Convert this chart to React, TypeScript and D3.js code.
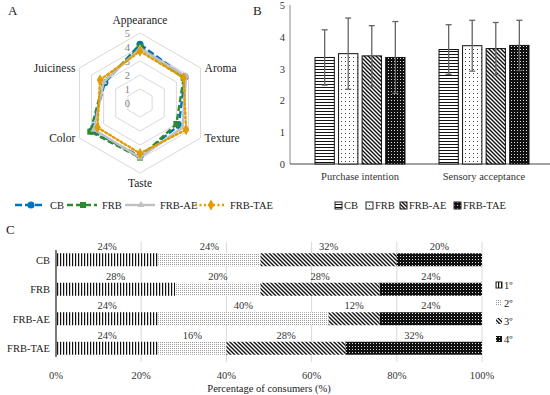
import { useEffect, useRef } from "react";
import * as d3 from "d3";

// Panel A - radar (sensory attributes)
const attributes = ["Appearance", "Aroma", "Texture", "Taste", "Color", "Juiciness"];
const samples = ["CB", "FRB", "FRB-AE", "FRB-TAE"];
const radarCB = [4.2, 3.7, 3.2, 3.8, 4.0, 2.9];
const radarFRB = [4.0, 3.6, 3.0, 3.9, 4.1, 3.0];
const radarFRBAE = [3.9, 3.8, 3.5, 3.9, 3.8, 3.0];
const radarFRBTAE = [3.7, 3.6, 3.8, 3.6, 3.5, 3.3];
const radarTicks = [0, 1, 2, 3, 4, 5];

// Panel B - bars with SD
const sensoryCategories = ["Purchase intention", "Sensory acceptance"];
const meanCB = [3.35, 3.6];
const meanFRB = [3.47, 3.72];
const meanFRBAE = [3.4, 3.63];
const meanFRBTAE = [3.35, 3.73];
const sdCB = [0.87, 0.78];
const sdFRB = [1.12, 0.8];
const sdFRBAE = [0.95, 0.82];
const sdFRBTAE = [1.13, 0.79];
const barTicks = [0, 1, 2, 3, 4, 5];

// Panel C - ranking
const rankCategories = ["CB", "FRB", "FRB-AE", "FRB-TAE"];
const rankLabels = ["1º", "2º", "3º", "4º"];
const rank1 = [24, 28, 24, 24];
const rank2 = [24, 20, 40, 16];
const rank3 = [32, 28, 12, 28];
const rank4 = [20, 24, 24, 32];
const pctTicks = [0, 20, 40, 60, 80, 100];

function App() {
  const ref = useRef<SVGSVGElement>(null);

  useEffect(() => {
    if (!ref.current) return;
    const svg = d3.select(ref.current);
    svg.selectAll("*").remove();
    svg.attr("font-family", "'Liberation Serif', 'Times New Roman', serif");

    const defs = svg.append("defs");
    const pattern = (id: string, w: number, h: number, bg: string) => {
      const p = defs
        .append("pattern")
        .attr("id", id)
        .attr("patternUnits", "userSpaceOnUse")
        .attr("width", w)
        .attr("height", h);
      p.append("rect").attr("width", w).attr("height", h).attr("fill", bg);
      return p;
    };
    pattern("hstripe", 3, 3, "#fff").append("rect").attr("width", 3).attr("height", 1).attr("fill", "#111");
    pattern("vstripe", 3, 3, "#fff").append("rect").attr("width", 1.2).attr("height", 3).attr("fill", "#111");
    pattern("sparsedots", 4, 4, "#fff").append("rect").attr("x", 1).attr("y", 1).attr("width", 1).attr("height", 1).attr("fill", "#444");
    pattern("lightdots", 2, 2, "#fff").append("rect").attr("width", 1).attr("height", 1).attr("fill", "#9a9a9a");
    pattern("diag", 4, 4, "#fff")
      .append("path")
      .attr("d", "M-1,-1L5,5M3,-1L5,1M-1,3L1,5")
      .attr("stroke", "#111")
      .attr("stroke-width", 1.4);
    const chk = pattern("checker", 3, 3, "#111");
    chk.append("rect").attr("x", 1).attr("y", 1).attr("width", 1).attr("height", 1).attr("fill", "#ddd");

    const panelLabel = (t: string, x: number, y: number) =>
      svg.append("text").attr("x", x).attr("y", y).attr("font-size", 13).attr("fill", "#222").text(t);

    // ---------------- A: radar ----------------
    const cx = 140, cy = 103, R = 70;
    const r = d3.scaleLinear().domain([0, 5]).range([0, R]);
    const angle = (i: number) => (i * 2 * Math.PI) / attributes.length;
    const pt = (i: number, v: number): [number, number] => [
      cx + r(v) * Math.sin(angle(i)),
      cy - r(v) * Math.cos(angle(i)),
    ];
    panelLabel("A", 8, 15);
    const gA = svg.append("g");
    radarTicks.slice(1).forEach((t) => {
      gA.append("path")
        .attr("d", d3.line()(attributes.map((_, i) => pt(i, t))) + "Z")
        .attr("fill", "none")
        .attr("stroke", "#d9d9d9")
        .attr("stroke-width", 1);
    });
    gA.selectAll(".rt")
      .data(radarTicks)
      .enter()
      .append("text")
      .attr("x", cx - 10)
      .attr("y", (d) => cy - r(d) + 4)
      .attr("text-anchor", "end")
      .attr("font-size", 10.5)
      .attr("fill", "#7f7f7f")
      .text((d) => d);

    gA.selectAll(".al")
      .data(attributes)
      .enter()
      .append("text")
      .attr("x", (_, i) => {
        const [x] = pt(i, 5);
        const s = Math.sin(angle(i));
        return x + (s > 0.1 ? 4 : s < -0.1 ? -4 : 0);
      })
      .attr("y", (_, i) => {
        const [, y] = pt(i, 5);
        const c = Math.cos(angle(i));
        return c > 0.9 ? y - 9 : c < -0.9 ? y + 14 : y + 4;
      })
      .attr("text-anchor", (_, i) => {
        const s = Math.sin(angle(i));
        return s > 0.1 ? "start" : s < -0.1 ? "end" : "middle";
      })
      .attr("font-size", 11.5)
      .attr("fill", "#222")
      .text((d) => d);

    const radarSeries = [
      { name: samples[0], values: radarCB, color: "#0070c0", dash: "7,3", marker: "circle" },
      { name: samples[1], values: radarFRB, color: "#2f8a2f", dash: "6,3", marker: "square" },
      { name: samples[2], values: radarFRBAE, color: "#c0c0c0", dash: null, marker: "triangle" },
      { name: samples[3], values: radarFRBTAE, color: "#e09c00", dash: "2,2.5", marker: "diamond" },
    ];
    const symbolOf = (m: string) =>
      m === "circle" ? d3.symbolCircle : m === "square" ? d3.symbolSquare : m === "triangle" ? d3.symbolTriangle : d3.symbolDiamond;
    const sizeOf = (m: string) => (m === "triangle" ? 22 : m === "circle" ? 40 : 36);

    radarSeries.forEach((s) => {
      gA.append("path")
        .attr("d", d3.line()(s.values.map((v, i) => pt(i, v))) + "Z")
        .attr("fill", "none")
        .attr("stroke", s.color)
        .attr("stroke-width", 2.4)
        .attr("stroke-dasharray", s.dash)
        .attr("stroke-linecap", s.dash === "2,2.5" ? "round" : "butt");
      gA.selectAll(null)
        .data(s.values)
        .enter()
        .append("path")
        .attr("transform", (v, i) => `translate(${pt(i, v)})`)
        .attr("d", d3.symbol(symbolOf(s.marker), sizeOf(s.marker)))
        .attr("fill", s.color);
    });

    // legend A
    const legA = [15, 67, 125, 195];
    radarSeries.forEach((s, i) => {
      const x0 = legA[i], y0 = 205;
      gA.append("line")
        .attr("x1", x0).attr("x2", x0 + 30)
        .attr("y1", y0).attr("y2", y0)
        .attr("stroke", s.color)
        .attr("stroke-width", 2.4)
        .attr("stroke-dasharray", s.dash);
      gA.append("path")
        .attr("transform", `translate(${x0 + 16},${y0})`)
        .attr("d", d3.symbol(symbolOf(s.marker), sizeOf(s.marker))())
        .attr("fill", s.color);
      gA.append("text")
        .attr("x", x0 + 35).attr("y", y0 + 4)
        .attr("font-size", 10.5)
        .attr("fill", "#222")
        .text(s.name);
    });

    // ---------------- B: bars ----------------
    panelLabel("B", 253, 15);
    const gB = svg.append("g");
    const yB = d3.scaleLinear().domain([0, 5]).range([164, 5]);
    const xB = d3.scaleBand().domain(sensoryCategories).range([298, 546]);
    const inner = d3.scaleBand().domain(samples).range([-45, 45]).paddingInner(0.18);
    const barSeries = [
      { name: samples[0], mean: meanCB, sd: sdCB, fill: "url(#hstripe)" },
      { name: samples[1], mean: meanFRB, sd: sdFRB, fill: "url(#sparsedots)" },
      { name: samples[2], mean: meanFRBAE, sd: sdFRBAE, fill: "url(#diag)" },
      { name: samples[3], mean: meanFRBTAE, sd: sdFRBTAE, fill: "url(#checker)" },
    ];

    gB.append("line").attr("x1", 290).attr("x2", 290).attr("y1", yB(5)).attr("y2", yB(0)).attr("stroke", "#888");
    gB.append("line").attr("x1", 290).attr("x2", 550).attr("y1", yB(0)).attr("y2", yB(0)).attr("stroke", "#444");
    gB.selectAll(".yt")
      .data(barTicks)
      .enter()
      .append("text")
      .attr("x", 285)
      .attr("y", (d) => yB(d) + 4)
      .attr("text-anchor", "end")
      .attr("font-size", 10.5)
      .attr("fill", "#333")
      .text((d) => d);
    gB.selectAll(".xl")
      .data(sensoryCategories)
      .enter()
      .append("text")
      .attr("x", (d) => xB(d)! + xB.bandwidth() / 2)
      .attr("y", 180)
      .attr("text-anchor", "middle")
      .attr("font-size", 10.5)
      .attr("fill", "#333")
      .text((d) => d);

    barSeries.forEach((s) => {
      sensoryCategories.forEach((c, j) => {
        const x = xB(c)! + xB.bandwidth() / 2 + inner(s.name)!;
        gB.append("rect")
          .attr("x", x)
          .attr("y", yB(s.mean[j]))
          .attr("width", inner.bandwidth())
          .attr("height", yB(0) - yB(s.mean[j]))
          .attr("fill", s.fill)
          .attr("stroke", "#111")
          .attr("stroke-width", 1);
      });
    });
    barSeries.forEach((s) => {
      sensoryCategories.forEach((c, j) => {
        const xm = xB(c)! + xB.bandwidth() / 2 + inner(s.name)! + inner.bandwidth() / 2;
        const hi = yB(s.mean[j] + s.sd[j]);
        const lo = yB(s.mean[j] - s.sd[j]);
        gB.append("line").attr("x1", xm).attr("x2", xm).attr("y1", hi).attr("y2", lo).attr("stroke", "#666").attr("stroke-width", 1.3);
        [hi, lo].forEach((yy) =>
          gB.append("line").attr("x1", xm - 3).attr("x2", xm + 3).attr("y1", yy).attr("y2", yy).attr("stroke", "#666").attr("stroke-width", 1.3)
        );
      });
    });

    const legB = [335, 366, 400, 454];
    barSeries.forEach((s, i) => {
      gB.append("rect")
        .attr("x", legB[i]).attr("y", 202)
        .attr("width", 7).attr("height", 7)
        .attr("fill", s.fill)
        .attr("stroke", "#222");
      gB.append("text")
        .attr("x", legB[i] + 9).attr("y", 209)
        .attr("font-size", 10.5)
        .attr("fill", "#222")
        .text(s.name);
    });

    // ---------------- C: ranking ----------------
    panelLabel("C", 6, 234);
    const gC = svg.append("g");
    const xC = d3.scaleLinear().domain([0, 100]).range([56, 482]);
    const yC = d3.scaleBand().domain(rankCategories).range([245, 363]).paddingInner(0.56).paddingOuter(0.28);
    const rankSeries = [
      { name: rankLabels[0], values: rank1, fill: "url(#vstripe)" },
      { name: rankLabels[1], values: rank2, fill: "url(#lightdots)" },
      { name: rankLabels[2], values: rank3, fill: "url(#diag)" },
      { name: rankLabels[3], values: rank4, fill: "url(#checker)" },
    ];

    gC.selectAll(".grid")
      .data(pctTicks.slice(1))
      .enter()
      .append("line")
      .attr("x1", (d) => xC(d)).attr("x2", (d) => xC(d))
      .attr("y1", 242).attr("y2", 362)
      .attr("stroke", "#d9d9d9");
    gC.selectAll(".xt")
      .data(pctTicks)
      .enter()
      .append("text")
      .attr("x", (d) => xC(d))
      .attr("y", 379)
      .attr("text-anchor", "middle")
      .attr("font-size", 10.5)
      .attr("fill", "#333")
      .text((d) => d + "%");
    gC.append("text")
      .attr("x", xC(50)).attr("y", 392)
      .attr("text-anchor", "middle")
      .attr("font-size", 10.5)
      .attr("fill", "#222")
      .text("Percentage of consumers (%)");
    gC.selectAll(".yl")
      .data(rankCategories)
      .enter()
      .append("text")
      .attr("x", 50)
      .attr("y", (d) => yC(d)! + yC.bandwidth() / 2 + 4)
      .attr("text-anchor", "end")
      .attr("font-size", 10.5)
      .attr("fill", "#222")
      .text((d) => d);

    const stackData = rankCategories.map((c, i) => {
      const row: any = { cat: c };
      rankSeries.forEach((s) => (row[s.name] = s.values[i]));
      return row;
    });
    const stacked = d3.stack().keys(rankLabels)(stackData);
    stacked.forEach((layer, k) => {
      layer.forEach((d: any) => {
        const y = yC(d.data.cat)!;
        gC.append("rect")
          .attr("x", xC(d[0]))
          .attr("y", y)
          .attr("width", xC(d[1]) - xC(d[0]))
          .attr("height", yC.bandwidth())
          .attr("fill", rankSeries[k].fill);
        gC.append("text")
          .attr("x", (xC(d[0]) + xC(d[1])) / 2)
          .attr("y", y - 3)
          .attr("text-anchor", "middle")
          .attr("font-size", 10.5)
          .attr("fill", "#333")
          .text(d[1] - d[0] + "%");
      });
    });
    gC.append("line").attr("x1", 56).attr("x2", 56).attr("y1", 250).attr("y2", 357).attr("stroke", "#222").attr("stroke-width", 1.2);

    rankSeries.forEach((s, i) => {
      const y0 = 282 + i * 18;
      gC.append("rect")
        .attr("x", 496).attr("y", y0)
        .attr("width", 6).attr("height", 6)
        .attr("fill", s.fill)
        .attr("stroke", i === 0 ? "#222" : "none");
      gC.append("text")
        .attr("x", 504).attr("y", y0 + 7)
        .attr("font-size", 10.5)
        .attr("fill", "#222")
        .text(s.name);
    });
  }, []);

  return (
    <svg
      ref={ref}
      width={550}
      height={395}
      style={{ position: "absolute", left: 0, top: 0, background: "#fff" }}
    />
  );
}

export default App;
